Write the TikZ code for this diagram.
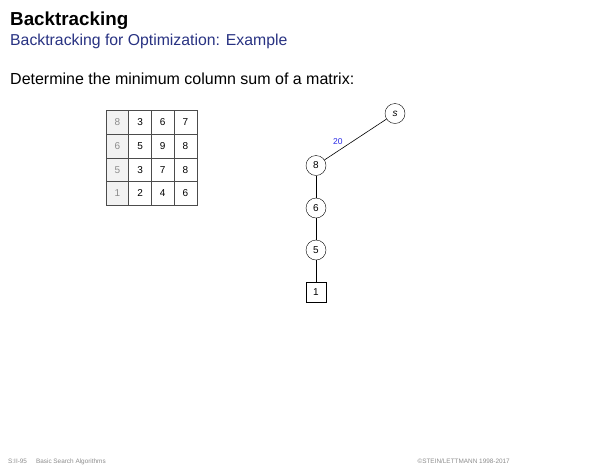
\documentclass[tikz,border=0pt]{standalone}
\usepackage{fontspec}
\setmainfont{Liberation Sans}
\begin{document}
\begin{tikzpicture}[x=1pt,y=-1pt,
  vnode/.style={draw,circle,minimum size=20pt,inner sep=0pt,font=\fontsize{10}{11}\selectfont},
  leaf/.style={draw,rectangle,minimum size=20pt,inner sep=0pt,font=\fontsize{10}{11}\selectfont},
  cell/.style={draw=black!70,line width=0.5pt,minimum width=22.7pt,minimum height=23.6pt,inner sep=0pt,font=\fontsize{10}{11}\selectfont},
  gcell/.style={cell,fill=black!5,text=black!45},
  edge/.style={line width=0.6pt},
  footer/.style={anchor=base west,text=black!45,font=\fontsize{6.4}{7}\selectfont}]
\useasboundingbox (0,0) rectangle (600,467);
\node[anchor=base west,inner sep=0pt,font=\fontsize{18.8}{20}\selectfont\bfseries] (title) at (10,25) {Backtracking};
\node[anchor=base west,inner sep=0pt,text={rgb,255:red,40;green,50;blue,130},font=\fontsize{15.8}{17}\selectfont] (subtitle) at (10,45.5) {Backtracking for Optimization: Example};
\node[anchor=base west,inner sep=0pt,font=\fontsize{16}{17}\selectfont] (intro) at (10,84.5) {Determine the minimum column sum of a matrix:};
% matrix
\foreach \r/\a/\b/\c/\d in {0/8/3/6/7,1/6/5/9/8,2/5/3/7/8,3/1/2/4/6}{
  \node[gcell] (m\r0) at (117.35,122.5+23.6*\r) {\a};
  \node[cell] (m\r1) at (140.05,122.5+23.6*\r) {\b};
  \node[cell] (m\r2) at (162.75,122.5+23.6*\r) {\c};
  \node[cell] (m\r3) at (185.45,122.5+23.6*\r) {\d};
}
% tree
\node[vnode,font=\fontsize{10}{11}\selectfont\itshape] (s) at (395,113.5) {s};
\node[vnode] (n8) at (316,165.5) {8};
\node[vnode] (n6) at (316,208) {6};
\node[vnode] (n5) at (316,250) {5};
\node[leaf] (n1) at (316,292) {1};
\draw[edge] (s) -- node[above left,inner sep=1.5pt,pos=0.68,text={rgb,255:red,40;green,40;blue,230},font=\fontsize{8.5}{9}\selectfont] (w) {20} (n8);
\draw[edge] (n8) -- (n6);
\draw[edge] (n6) -- (n5);
\draw[edge] (n5) -- (n1);
% footer
\node[footer,inner sep=0pt] (f1) at (8,463) {S:II-95\hspace{9pt}Basic Search Algorithms};
\node[footer,inner sep=0pt,anchor=base east] (f2) at (510,463) {\textcopyright STEIN/LETTMANN 1998-2017};
\end{tikzpicture}
\end{document}
